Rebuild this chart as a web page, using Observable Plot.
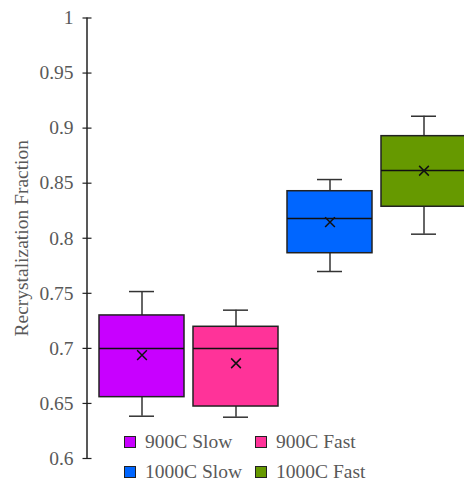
<!DOCTYPE html>
<html>
<head>
<meta charset="utf-8">
<script src="https://cdn.jsdelivr.net/npm/d3@7"></script>
<script src="https://cdn.jsdelivr.net/npm/@observablehq/plot@0.6"></script>
<style>
  html, body { margin: 0; padding: 0; background: #fff; overflow: hidden; }
  #wrap { position: relative; width: 464px; height: 481px; }
  #legend { position: absolute; left: 0; top: 0; width: 464px; height: 481px; pointer-events: none;
            font-family: "Liberation Serif", "Times New Roman", serif; font-size: 19.5px; color: #595959; }
  .item { position: absolute; display: flex; align-items: center; white-space: nowrap; }
  .sw { width: 10px; height: 10px; border: 1px solid #222; margin-right: 9px; }
</style>
</head>
<body>
<div id="wrap"><div id="legend"></div></div>
<script>
const categories = ["900C Slow", "900C Fast", "1000C Slow", "1000C Fast"];
const colors = ["#C800FF", "#FF3399", "#0066FF", "#669900"];
const whiskerLow = [0.6384, 0.6375, 0.7698, 0.8037];
const q1 = [0.6557, 0.6472, 0.7864, 0.8286];
const median = [0.7000, 0.7000, 0.8179, 0.8615];
const q3 = [0.7299, 0.7196, 0.8427, 0.8927];
const whiskerHigh = [0.7516, 0.7347, 0.8533, 0.9108];
const mean = [0.6938, 0.6865, 0.8146, 0.8613];
const yTicks = [0.6, 0.65, 0.7, 0.75, 0.8, 0.85, 0.9, 0.95, 1];
const yLabel = "Recrystalization Fraction";

const data = categories.map((c, i) => ({
  cat: c, color: colors[i], lo: whiskerLow[i], q1: q1[i], med: median[i],
  q3: q3[i], hi: whiskerHigh[i], mean: mean[i]
}));

const font = "Liberation Serif, Times New Roman, serif";

const plot = Plot.plot({
  width: 464,
  height: 481,
  marginTop: 17.5,
  marginBottom: 23,
  marginLeft: 87,
  marginRight: 0,
  style: { fontFamily: font, background: "transparent" },
  x: { domain: categories, range: [87, 478], paddingInner: 0.095, paddingOuter: 0.122, axis: null },
  y: { domain: [0.6, 1], axis: null },
  marks: [
    Plot.ruleX(data, { x: "cat", y1: "lo", y2: "hi", stroke: "#333", strokeWidth: 1.5 }),
    Plot.tickY(data, { x: "cat", y: "lo", stroke: "#333", strokeWidth: 1.5, insetLeft: 30, insetRight: 30 }),
    Plot.tickY(data, { x: "cat", y: "hi", stroke: "#333", strokeWidth: 1.5, insetLeft: 30, insetRight: 30 }),
    Plot.barY(data, { x: "cat", y1: "q1", y2: "q3", fill: "color", stroke: "#222", strokeWidth: 1.5 }),
    Plot.tickY(data, { x: "cat", y: "med", stroke: "#111", strokeWidth: 1.5 }),
    Plot.dot(data, { x: "cat", y: "mean", symbol: "times", r: 4.5, stroke: "#111", strokeWidth: 1.5 }),
    Plot.axisY({ ticks: yTicks, tickFormat: d => String(+d.toFixed(2)), tickSize: 9, dx: 4.5, tickPadding: 9.5,
                 fontSize: 19.5, fill: "#595959", stroke: "#222", strokeWidth: 1.2, label: null }),
    Plot.text([yLabel], { text: d => d, frameAnchor: "left", textAnchor: "middle", rotate: -90, dx: -66,
                          fontSize: 19.5, fill: "#595959", fontFamily: font })
  ]
});

// vertical axis line along the left edge of the frame
const ys = plot.scale("y");
d3.select(plot).append("line")
  .attr("x1", 87).attr("x2", 87)
  .attr("y1", ys.apply(1)).attr("y2", ys.apply(0.6))
  .attr("stroke", "#222").attr("stroke-width", 1.5);

const wrap = document.getElementById("wrap");
wrap.insertBefore(plot, wrap.firstChild);

const legend = document.getElementById("legend");
categories.forEach((c, i) => {
  const it = document.createElement("div");
  it.className = "item";
  it.style.left = (124 + (i % 2) * 131) + "px";
  it.style.top = (431 + Math.floor(i / 2) * 30) + "px";
  const sw = document.createElement("span");
  sw.className = "sw";
  sw.style.background = colors[i];
  const tx = document.createElement("span");
  tx.textContent = c;
  it.appendChild(sw);
  it.appendChild(tx);
  legend.appendChild(it);
});
</script>
</body>
</html>
